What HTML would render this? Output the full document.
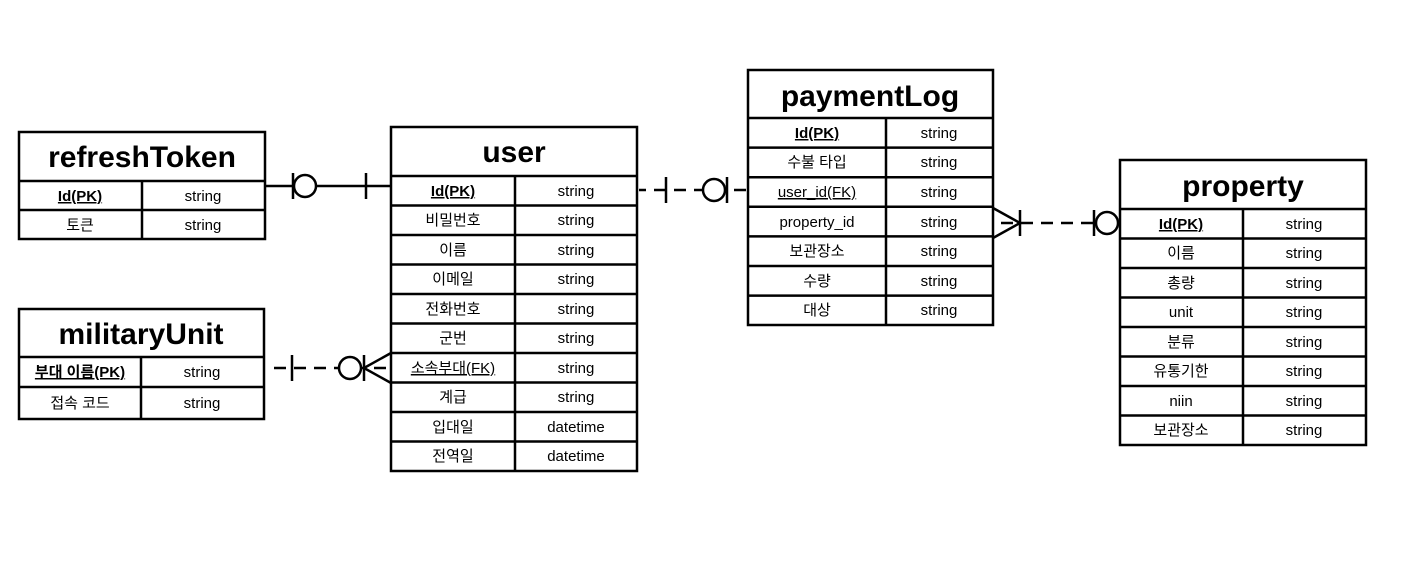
<!DOCTYPE html>
<html><head><meta charset="utf-8"><style>
html,body{margin:0;padding:0;background:#fff;}
svg{display:block;}
text{font-family:"Liberation Sans","Noto Sans CJK KR",sans-serif;font-size:15px;text-anchor:middle;fill:#000;}
.t{font-size:30px;font-weight:bold;}
.u{text-decoration:underline;}
.b{font-weight:bold;}
</style></head><body>
<svg width="1406" height="573" viewBox="0 0 1406 573" xmlns="http://www.w3.org/2000/svg">
<g fill="none" stroke="#000" stroke-width="2.5">
<!-- refreshToken -->
<rect x="19" y="132" width="246" height="107"/>
<line x1="19" y1="181" x2="265" y2="181"/><line x1="19" y1="210" x2="265" y2="210"/>
<line x1="142" y1="181" x2="142" y2="239"/>
<!-- militaryUnit -->
<rect x="19" y="309" width="245" height="110"/>
<line x1="19" y1="357" x2="264" y2="357"/><line x1="19" y1="387" x2="264" y2="387"/>
<line x1="141" y1="357" x2="141" y2="419"/>
<!-- user -->
<rect x="391" y="127" width="246" height="344"/>
<line x1="391" y1="176" x2="637" y2="176"/>
<line x1="391" y1="205.5" x2="637" y2="205.5"/><line x1="391" y1="235" x2="637" y2="235"/>
<line x1="391" y1="264.5" x2="637" y2="264.5"/><line x1="391" y1="294" x2="637" y2="294"/>
<line x1="391" y1="323.5" x2="637" y2="323.5"/><line x1="391" y1="353" x2="637" y2="353"/>
<line x1="391" y1="382.5" x2="637" y2="382.5"/><line x1="391" y1="412" x2="637" y2="412"/>
<line x1="391" y1="441.5" x2="637" y2="441.5"/>
<line x1="515" y1="176" x2="515" y2="471"/>
<!-- paymentLog -->
<rect x="748" y="70" width="245" height="255"/>
<line x1="748" y1="118" x2="993" y2="118"/>
<line x1="748" y1="147.6" x2="993" y2="147.6"/><line x1="748" y1="177.2" x2="993" y2="177.2"/>
<line x1="748" y1="206.8" x2="993" y2="206.8"/><line x1="748" y1="236.4" x2="993" y2="236.4"/>
<line x1="748" y1="266" x2="993" y2="266"/><line x1="748" y1="295.6" x2="993" y2="295.6"/>
<line x1="886" y1="118" x2="886" y2="325"/>
<!-- property -->
<rect x="1120" y="160" width="246" height="285"/>
<line x1="1120" y1="209" x2="1366" y2="209"/>
<line x1="1120" y1="238.5" x2="1366" y2="238.5"/><line x1="1120" y1="268" x2="1366" y2="268"/>
<line x1="1120" y1="297.5" x2="1366" y2="297.5"/><line x1="1120" y1="327" x2="1366" y2="327"/>
<line x1="1120" y1="356.5" x2="1366" y2="356.5"/><line x1="1120" y1="386" x2="1366" y2="386"/>
<line x1="1120" y1="415.5" x2="1366" y2="415.5"/>
<line x1="1243" y1="209" x2="1243" y2="445"/>

<!-- refreshToken - user -->
<line x1="265" y1="186" x2="391" y2="186"/>
<line x1="293" y1="173" x2="293" y2="199"/>
<circle cx="305" cy="186" r="11" fill="#fff"/>
<line x1="366" y1="173" x2="366" y2="199"/>
<!-- user - paymentLog -->
<line x1="639" y1="190" x2="748" y2="190" stroke-dasharray="12,8" stroke-dashoffset="5"/>
<line x1="666" y1="177" x2="666" y2="203"/>
<circle cx="714" cy="190" r="11" fill="#fff"/>
<line x1="727" y1="177" x2="727" y2="203"/>
<!-- militaryUnit - user -->
<line x1="274" y1="368" x2="391" y2="368" stroke-dasharray="12,8"/>
<line x1="292" y1="355" x2="292" y2="381"/>
<circle cx="350" cy="368" r="11" fill="#fff"/>
<line x1="364" y1="355" x2="364" y2="381"/>
<line x1="364" y1="368" x2="391" y2="353"/><line x1="364" y1="368" x2="391" y2="383"/>
<!-- paymentLog - property -->
<line x1="993" y1="223" x2="1120" y2="223" stroke-dasharray="12,8" stroke-dashoffset="-28"/>
<line x1="993" y1="208" x2="1020" y2="223"/><line x1="993" y1="238" x2="1020" y2="223"/>
<line x1="1020" y1="210" x2="1020" y2="236"/>
<line x1="1094" y1="210" x2="1094" y2="236"/>
<circle cx="1107" cy="223" r="11" fill="#fff"/>
</g>

<text class="t" x="142" y="167">refreshToken</text>
<text class="b u" x="80" y="201">Id(PK)</text><text x="203" y="201">string</text>
<text x="80" y="230">토큰</text><text x="203" y="230">string</text>

<text class="t" x="141" y="344">militaryUnit</text>
<text class="b u" x="80" y="377">부대 이름(PK)</text><text x="202" y="377">string</text>
<text x="80" y="408">접속 코드</text><text x="202" y="408">string</text>

<text class="t" x="514" y="162">user</text>
<text class="b u" x="453" y="196">Id(PK)</text><text x="576" y="196">string</text>
<text x="453" y="225">비밀번호</text><text x="576" y="225">string</text>
<text x="453" y="255">이름</text><text x="576" y="255">string</text>
<text x="453" y="284">이메일</text><text x="576" y="284">string</text>
<text x="453" y="314">전화번호</text><text x="576" y="314">string</text>
<text x="453" y="343">군번</text><text x="576" y="343">string</text>
<text class="u" x="453" y="373">소속부대(FK)</text><text x="576" y="373">string</text>
<text x="453" y="402">계급</text><text x="576" y="402">string</text>
<text x="453" y="432">입대일</text><text x="576" y="432">datetime</text>
<text x="453" y="461">전역일</text><text x="576" y="461">datetime</text>

<text class="t" x="870" y="106">paymentLog</text>
<text class="b u" x="817" y="138">Id(PK)</text><text x="939" y="138">string</text>
<text x="817" y="167">수불 타입</text><text x="939" y="167">string</text>
<text class="u" x="817" y="197">user_id(FK)</text><text x="939" y="197">string</text>
<text x="817" y="227">property_id</text><text x="939" y="227">string</text>
<text x="817" y="256">보관장소</text><text x="939" y="256">string</text>
<text x="817" y="286">수량</text><text x="939" y="286">string</text>
<text x="817" y="315">대상</text><text x="939" y="315">string</text>

<text class="t" x="1243" y="196">property</text>
<text class="b u" x="1181" y="229">Id(PK)</text><text x="1304" y="229">string</text>
<text x="1181" y="258">이름</text><text x="1304" y="258">string</text>
<text x="1181" y="288">총량</text><text x="1304" y="288">string</text>
<text x="1181" y="317">unit</text><text x="1304" y="317">string</text>
<text x="1181" y="347">분류</text><text x="1304" y="347">string</text>
<text x="1181" y="376">유통기한</text><text x="1304" y="376">string</text>
<text x="1181" y="406">niin</text><text x="1304" y="406">string</text>
<text x="1181" y="435">보관장소</text><text x="1304" y="435">string</text>
</svg>
</body></html>
